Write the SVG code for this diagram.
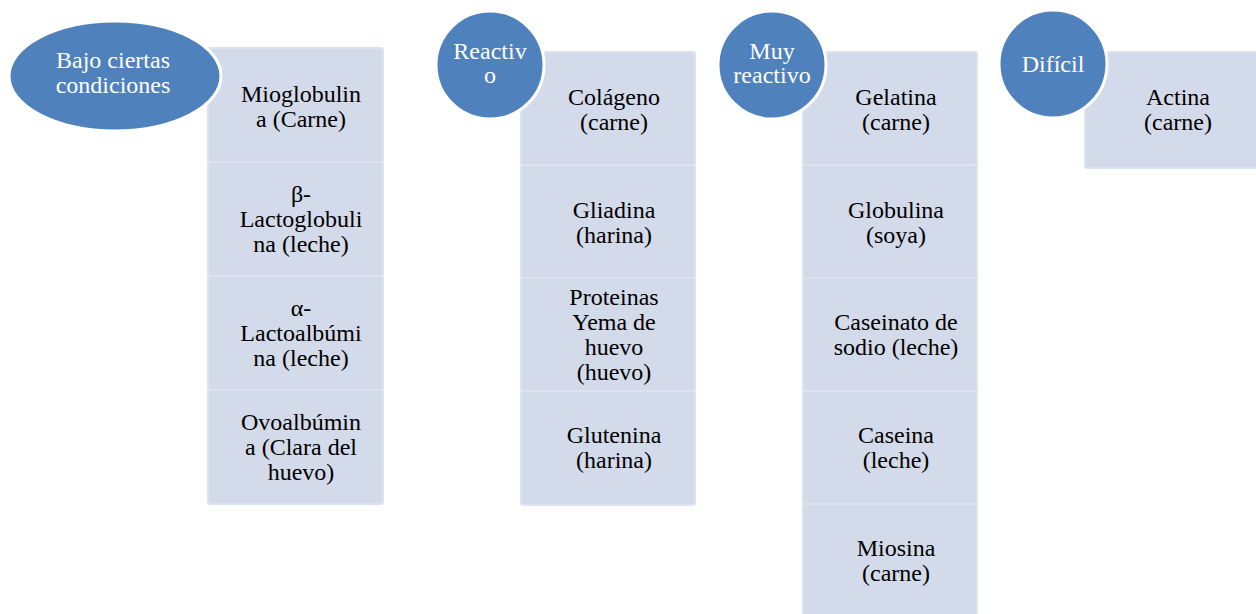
<svg xmlns="http://www.w3.org/2000/svg" width="1256" height="614" viewBox="0 0 1256 614">
<style>
.box{fill:#d3dae9;stroke:#dde3ee;stroke-width:2}
.circ{fill:#4f81bd;stroke:#ffffff;stroke-width:3}
text{font-family:'Liberation Serif','DejaVu Serif',serif;font-size:24px;text-anchor:middle}
.t{fill:#000000}
.w{fill:#ffffff}
</style>
<rect width="1256" height="614" fill="#ffffff"/>
<g id="connectors"></g>

<g id="col1-items">
<g id="c1b1"><rect class="box" x="208" y="48" width="175" height="114" rx="2"/><text class="t" x="301" y="102">Mioglobulin</text><text class="t" x="301" y="127">a (Carne)</text></g>
<g id="c1b2"><rect class="box" x="208" y="162" width="175" height="114" rx="2"/><text class="t" x="301" y="202">β-</text><text class="t" x="301" y="227">Lactoglobuli</text><text class="t" x="301" y="252">na (leche)</text></g>
<g id="c1b3"><rect class="box" x="208" y="276" width="175" height="114" rx="2"/><text class="t" x="301" y="316">α-</text><text class="t" x="301" y="341">Lactoalbúmi</text><text class="t" x="301" y="366">na (leche)</text></g>
<g id="c1b4"><rect class="box" x="208" y="390" width="175" height="114" rx="2"/><text class="t" x="301" y="430">Ovoalbúmin</text><text class="t" x="301" y="455">a (Clara del</text><text class="t" x="301" y="480">huevo)</text></g>
</g>
<g id="n-bajo"><ellipse class="circ" cx="115" cy="76" rx="106" ry="55"/><text class="w" x="113" y="68">Bajo ciertas</text><text class="w" x="113" y="93">condiciones</text></g>

<g id="col2-items">
<g id="c2b1"><rect class="box" x="521" y="52" width="174" height="113" rx="2"/><text class="t" x="614" y="105">Colágeno</text><text class="t" x="614" y="130">(carne)</text></g>
<g id="c2b2"><rect class="box" x="521" y="165" width="174" height="113" rx="2"/><text class="t" x="614" y="218">Gliadina</text><text class="t" x="614" y="243">(harina)</text></g>
<g id="c2b3"><rect class="box" x="521" y="278" width="174" height="113" rx="2"/><text class="t" x="614" y="305">Proteinas</text><text class="t" x="614" y="330">Yema de</text><text class="t" x="614" y="355">huevo</text><text class="t" x="614" y="380">(huevo)</text></g>
<g id="c2b4"><rect class="box" x="521" y="391" width="174" height="114" rx="2"/><text class="t" x="614" y="443">Glutenina</text><text class="t" x="614" y="468">(harina)</text></g>
</g>
<g id="n-reactivo"><circle class="circ" cx="490" cy="65" r="54"/><text class="w" x="490" y="59">Reactiv</text><text class="w" x="490" y="83">o</text></g>

<g id="col3-items">
<g id="c3b1"><rect class="box" x="803" y="52" width="174" height="113" rx="2"/><text class="t" x="896" y="105">Gelatina</text><text class="t" x="896" y="130">(carne)</text></g>
<g id="c3b2"><rect class="box" x="803" y="165" width="174" height="113" rx="2"/><text class="t" x="896" y="218">Globulina</text><text class="t" x="896" y="243">(soya)</text></g>
<g id="c3b3"><rect class="box" x="803" y="278" width="174" height="113" rx="2"/><text class="t" x="896" y="330">Caseinato de</text><text class="t" x="896" y="355">sodio (leche)</text></g>
<g id="c3b4"><rect class="box" x="803" y="391" width="174" height="113" rx="2"/><text class="t" x="896" y="443">Caseina</text><text class="t" x="896" y="468">(leche)</text></g>
<g id="c3b5"><rect class="box" x="803" y="504" width="174" height="113" rx="2"/><text class="t" x="896" y="556">Miosina</text><text class="t" x="896" y="581">(carne)</text></g>
</g>
<g id="n-muy"><circle class="circ" cx="772" cy="65" r="54"/><text class="w" x="772" y="59">Muy</text><text class="w" x="772" y="83">reactivo</text></g>

<g id="col4-items">
<g id="c4b1"><rect class="box" x="1085" y="52" width="176" height="116" rx="2"/><text class="t" x="1178" y="105">Actina</text><text class="t" x="1178" y="130">(carne)</text></g>
</g>
<g id="n-dificil"><circle class="circ" cx="1053" cy="64" r="54"/><text class="w" x="1053" y="72">Difícil</text></g>
</svg>
